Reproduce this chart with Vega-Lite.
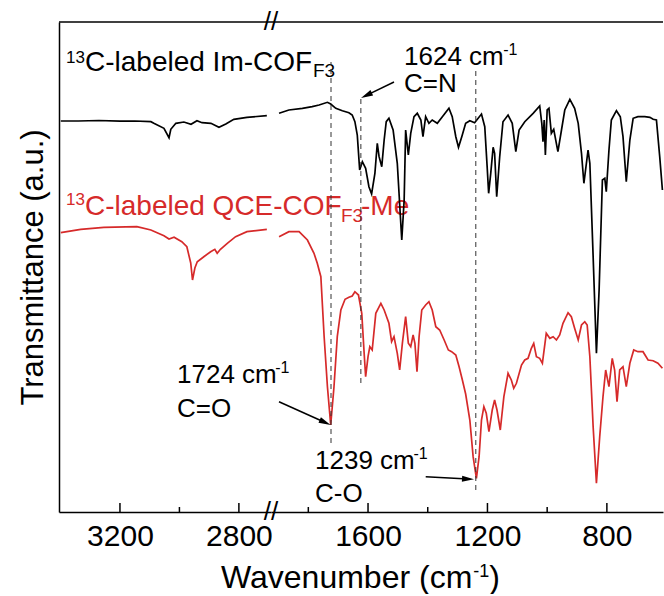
{
  "$schema": "https://vega.github.io/schema/vega-lite/v6.json",
  "background": "white",
  "padding": {"left": 17, "top": 9, "right": 0, "bottom": 0},
  "config": {"view": {"stroke": null}, "font": "Liberation Sans", "axis": {"grid": false}, "axisX": {"labelFontSize": 30, "labelFont": "Liberation Sans", "labelColor": "#000000", "labelPadding": 9, "ticks": false, "domainColor": "#000000", "domainWidth": 1.5, "labelFlush": false, "labelOverlap": false}},
  "datasets": {
    "im": [
      {"wn":3399,"t":391},{"wn":3340,"t":391},{"wn":3271,"t":391.5},{"wn":3200,"t":390.8},{"wn":3150,"t":391},{"wn":3096,"t":390.3},{"wn":3086,"t":388.7},{"wn":3052,"t":383.7},{"wn":3035,"t":374.3},{"wn":3029,"t":382.7},{"wn":3012,"t":388.7},{"wn":2985,"t":390},{"wn":2961,"t":387.7},{"wn":2941,"t":391.3},{"wn":2924,"t":389.3},{"wn":2894,"t":388.7},{"wn":2867,"t":384.7},{"wn":2844,"t":388},{"wn":2817,"t":392.7},{"wn":2773,"t":394.7},{"wn":2706,"t":396.3},
      {"wn":1898,"t":398.7},{"wn":1865,"t":402},{"wn":1820,"t":403.7},{"wn":1787,"t":405.3},{"wn":1764,"t":407},{"wn":1736,"t":409.7},{"wn":1725,"t":408},{"wn":1708,"t":403.7},{"wn":1686,"t":401.3},{"wn":1664,"t":399.3},{"wn":1653,"t":397},{"wn":1644,"t":390.3},{"wn":1636,"t":377},{"wn":1628,"t":342},{"wn":1619,"t":350.3},{"wn":1608,"t":343.7},{"wn":1597,"t":325.3},{"wn":1588,"t":318},{"wn":1577,"t":338.7},{"wn":1569,"t":368.7},{"wn":1563,"t":355.3},{"wn":1554,"t":345.3},{"wn":1546,"t":372},{"wn":1539,"t":390.3},{"wn":1530,"t":393.7},{"wn":1516,"t":382},{"wn":1502,"t":348.7},{"wn":1487,"t":272},{"wn":1479,"t":312},{"wn":1474,"t":382},{"wn":1465,"t":357},{"wn":1457,"t":378.7},{"wn":1446,"t":395.3},{"wn":1435,"t":398.7},{"wn":1423,"t":392},{"wn":1416,"t":375.3},{"wn":1407,"t":395.3},{"wn":1396,"t":388.7},{"wn":1385,"t":392},{"wn":1368,"t":388.7},{"wn":1351,"t":395.3},{"wn":1329,"t":403.7},{"wn":1318,"t":395.3},{"wn":1306,"t":375.3},{"wn":1297,"t":364.7},{"wn":1286,"t":375.3},{"wn":1273,"t":388.7},{"wn":1259,"t":391.3},{"wn":1243,"t":389.3},{"wn":1220,"t":398},{"wn":1209,"t":385.3},{"wn":1201,"t":345.3},{"wn":1196,"t":318.7},{"wn":1189,"t":338.7},{"wn":1181,"t":364.7},{"wn":1176,"t":358.7},{"wn":1169,"t":315.3},{"wn":1159,"t":355.3},{"wn":1148,"t":390.3},{"wn":1131,"t":397},{"wn":1117,"t":388.7},{"wn":1105,"t":360.3},{"wn":1094,"t":382},{"wn":1075,"t":390.3},{"wn":1047,"t":398.7},{"wn":1025,"t":406},{"wn":1018,"t":388.7},{"wn":1014,"t":370.3},{"wn":1010,"t":392},{"wn":1006,"t":357},{"wn":1000,"t":402},{"wn":994,"t":403.7},{"wn":986,"t":378.7},{"wn":978,"t":382.7},{"wn":964,"t":360.3},{"wn":952,"t":382},{"wn":941,"t":402},{"wn":924,"t":412.7},{"wn":908,"t":403.7},{"wn":896,"t":388.7},{"wn":885,"t":358.7},{"wn":877,"t":328.7},{"wn":863,"t":362},{"wn":857,"t":348.7},{"wn":846,"t":255.3},{"wn":835,"t":158.7},{"wn":826,"t":222},{"wn":815,"t":332},{"wn":807,"t":333.7},{"wn":802,"t":320.3},{"wn":793,"t":362},{"wn":785,"t":392},{"wn":768,"t":401.3},{"wn":755,"t":395.3},{"wn":746,"t":375.3},{"wn":735,"t":330.3},{"wn":723,"t":372},{"wn":712,"t":393.7},{"wn":696,"t":395.3},{"wn":673,"t":395.3},{"wn":656,"t":394.7},{"wn":645,"t":392.7},{"wn":634,"t":392},{"wn":623,"t":355.3},{"wn":614,"t":322}
    ],
    "qce": [
      {"wn":3399,"t":279.3},{"wn":3332,"t":282.7},{"wn":3254,"t":284.7},{"wn":3143,"t":285.3},{"wn":3096,"t":282},{"wn":3052,"t":276.3},{"wn":3035,"t":273},{"wn":3018,"t":274.7},{"wn":2992,"t":270.3},{"wn":2975,"t":265.3},{"wn":2962,"t":249},{"wn":2956,"t":232},{"wn":2948,"t":244},{"wn":2940,"t":250.3},{"wn":2918,"t":255.3},{"wn":2895,"t":260.3},{"wn":2881,"t":262.7},{"wn":2873,"t":258.7},{"wn":2862,"t":262.7},{"wn":2839,"t":268.7},{"wn":2811,"t":275.3},{"wn":2773,"t":280.3},{"wn":2706,"t":282.7},
      {"wn":1898,"t":275.3},{"wn":1865,"t":280.3},{"wn":1831,"t":280.3},{"wn":1803,"t":272},{"wn":1781,"t":258.7},{"wn":1770,"t":248.7},{"wn":1758,"t":235.3},{"wn":1747,"t":175.3},{"wn":1736,"t":125.3},{"wn":1725,"t":87},{"wn":1714,"t":125.3},{"wn":1703,"t":175.3},{"wn":1691,"t":202},{"wn":1677,"t":212.7},{"wn":1664,"t":214.7},{"wn":1653,"t":216},{"wn":1644,"t":220.3},{"wn":1632,"t":217},{"wn":1621,"t":198.7},{"wn":1613,"t":158.7},{"wn":1608,"t":135.3},{"wn":1600,"t":155.3},{"wn":1594,"t":165.3},{"wn":1586,"t":162},{"wn":1574,"t":198.7},{"wn":1557,"t":208.7},{"wn":1546,"t":202},{"wn":1530,"t":188.7},{"wn":1521,"t":170.3},{"wn":1513,"t":175.3},{"wn":1502,"t":158.7},{"wn":1494,"t":142},{"wn":1485,"t":168.7},{"wn":1474,"t":195.3},{"wn":1465,"t":168.7},{"wn":1457,"t":165.3},{"wn":1449,"t":177},{"wn":1443,"t":168.7},{"wn":1436,"t":140.3},{"wn":1429,"t":175.3},{"wn":1420,"t":202},{"wn":1407,"t":207},{"wn":1396,"t":210.3},{"wn":1385,"t":202},{"wn":1373,"t":185.3},{"wn":1360,"t":182},{"wn":1345,"t":172},{"wn":1331,"t":162},{"wn":1320,"t":160.3},{"wn":1306,"t":157},{"wn":1295,"t":145.3},{"wn":1284,"t":132},{"wn":1273,"t":118},{"wn":1259,"t":92},{"wn":1248,"t":55.3},{"wn":1237,"t":33.7},{"wn":1228,"t":55.3},{"wn":1220,"t":92},{"wn":1212,"t":105.3},{"wn":1204,"t":98.7},{"wn":1195,"t":80.3},{"wn":1184,"t":102},{"wn":1176,"t":112},{"wn":1168,"t":102},{"wn":1157,"t":82},{"wn":1145,"t":115.3},{"wn":1131,"t":138.7},{"wn":1120,"t":132},{"wn":1112,"t":123.7},{"wn":1103,"t":128.7},{"wn":1086,"t":147},{"wn":1075,"t":152},{"wn":1064,"t":153.7},{"wn":1053,"t":163.7},{"wn":1045,"t":168.7},{"wn":1036,"t":155.3},{"wn":1025,"t":153.7},{"wn":1016,"t":148.7},{"wn":1003,"t":178.7},{"wn":991,"t":173.7},{"wn":980,"t":175.3},{"wn":969,"t":172},{"wn":958,"t":177},{"wn":947,"t":188.7},{"wn":930,"t":199.3},{"wn":919,"t":195.3},{"wn":908,"t":183.7},{"wn":896,"t":172},{"wn":885,"t":187},{"wn":874,"t":190.3},{"wn":866,"t":187},{"wn":857,"t":155.3},{"wn":846,"t":85.3},{"wn":835,"t":28.7},{"wn":824,"t":75.3},{"wn":813,"t":115.3},{"wn":804,"t":142},{"wn":793,"t":125.3},{"wn":782,"t":153.7},{"wn":774,"t":142},{"wn":766,"t":110.3},{"wn":757,"t":142},{"wn":746,"t":145.3},{"wn":735,"t":125.3},{"wn":723,"t":148.7},{"wn":710,"t":162},{"wn":696,"t":160.3},{"wn":679,"t":160.3},{"wn":662,"t":152},{"wn":645,"t":151.3},{"wn":629,"t":148.7},{"wn":614,"t":143.7}
    ]
  },
  "spacing": 0,
  "bounds": "flush",
  "hconcat": [
    {
      "width": 212,
      "height": 490,
      "layer": [
        {
          "data": {"name": "im"},
          "transform": [{"filter": "datum.wn > 2000"}],
          "mark": {"type": "line", "color": "#000000", "strokeWidth": 1.7},
          "encoding": {
            "x": {"field": "wn", "type": "quantitative", "scale": {"domain": [3405, 2692], "nice": false, "zero": false},
                  "axis": {"values": [3200, 2800], "format": "d", "title": null, "labelFontSize": 30}},
            "y": {"field": "t", "type": "quantitative", "scale": {"domain": [0, 490], "nice": false, "zero": false},
                  "axis": {"title": "Transmittance (a.u.)", "titleFontSize": 31, "titleFont": "Liberation Sans", "titleFontWeight": "normal", "titleColor": "#000000", "titlePadding": 10, "ticks": false, "labels": false, "domainColor": "#000000", "domainWidth": 1.5}}
          }
        },
        {
          "data": {"name": "qce"},
          "transform": [{"filter": "datum.wn > 2000"}],
          "mark": {"type": "line", "color": "#d62a2a", "strokeWidth": 1.7},
          "encoding": {"x": {"field": "wn", "type": "quantitative"}, "y": {"field": "t", "type": "quantitative"}}
        },
        {
          "data": {"values": [{}]},
          "mark": {"type": "rule", "color": "#000000", "strokeWidth": 1.5},
          "encoding": {"y": {"datum": 490}}
        },
        {
          "data": {"values": [{"wn": 3200}, {"wn": 2800}]},
          "mark": {"type": "rule", "color": "#000000", "strokeWidth": 1.5},
          "encoding": {"x": {"field": "wn", "type": "quantitative"}, "y": {"datum": 0}, "y2": {"datum": 9}}
        },
        {
          "data": {"values": [{"wn": 3000}]},
          "mark": {"type": "rule", "color": "#000000", "strokeWidth": 1.5},
          "encoding": {"x": {"field": "wn", "type": "quantitative"}, "y": {"datum": 0}, "y2": {"datum": 5}}
        },
        {"data": {"values": [{}]}, "mark": {"type": "text", "text": "13", "fontSize": 17, "align": "left", "baseline": "alphabetic", "color": "#000000"}, "encoding": {"x": {"datum": 3381.5}, "y": {"datum": 449}}},
        {"data": {"values": [{}]}, "mark": {"type": "text", "text": "C-labeled Im-COF", "fontSize": 28, "align": "left", "baseline": "alphabetic", "color": "#000000"}, "encoding": {"x": {"datum": 3317.6}, "y": {"datum": 441}}},
        {"data": {"values": [{}]}, "mark": {"type": "text", "text": "F3", "fontSize": 19, "align": "left", "baseline": "alphabetic", "color": "#000000"}, "encoding": {"x": {"datum": 2550.7}, "y": {"datum": 435}}},
        {"data": {"values": [{}]}, "mark": {"type": "text", "text": "13", "fontSize": 17, "align": "left", "baseline": "alphabetic", "color": "#d62a2a"}, "encoding": {"x": {"datum": 3381.5}, "y": {"datum": 307}}},
        {"data": {"values": [{}]}, "mark": {"type": "text", "text": "C-labeled QCE-COF", "fontSize": 28, "align": "left", "baseline": "alphabetic", "color": "#d62a2a"}, "encoding": {"x": {"datum": 3317.6}, "y": {"datum": 297}}},
        {"data": {"values": [{}]}, "mark": {"type": "text", "text": "F3", "fontSize": 19, "align": "left", "baseline": "alphabetic", "color": "#d62a2a"}, "encoding": {"x": {"datum": 2456.6}, "y": {"datum": 290}}},
        {"data": {"values": [{}]}, "mark": {"type": "text", "text": "-Me", "fontSize": 28, "align": "left", "baseline": "alphabetic", "color": "#d62a2a"}, "encoding": {"x": {"datum": 2389.3}, "y": {"datum": 297}}},
        {"data": {"values": [{}]}, "mark": {"type": "text", "text": "1724 cm", "fontSize": 26, "align": "left", "baseline": "alphabetic", "color": "#000000"}, "encoding": {"x": {"datum": 3008.1}, "y": {"datum": 129}}},
        {"data": {"values": [{}]}, "mark": {"type": "text", "text": "-1", "fontSize": 16, "align": "left", "baseline": "alphabetic", "color": "#000000"}, "encoding": {"x": {"datum": 2678}, "y": {"datum": 139}}},
        {"data": {"values": [{}]}, "mark": {"type": "text", "text": "C=O", "fontSize": 26, "align": "left", "baseline": "alphabetic", "color": "#000000"}, "encoding": {"x": {"datum": 3008.1}, "y": {"datum": 95}}},
        {"data": {"values": [{}]}, "mark": {"type": "text", "text": "//", "fontSize": 26, "align": "center", "baseline": "middle", "color": "#000000"}, "encoding": {"x": {"datum": 2692}, "y": {"datum": 490}}},
        {"data": {"values": [{}]}, "mark": {"type": "text", "text": "//", "fontSize": 26, "align": "center", "baseline": "middle", "color": "#000000"}, "encoding": {"x": {"datum": 2692}, "y": {"datum": 0}}},
        {"data": {"values": [{}]}, "mark": {"type": "text", "text": "Wavenumber (cm", "fontSize": 32, "align": "left", "baseline": "alphabetic", "color": "#000000"}, "encoding": {"x": {"datum": 2860.2}, "y": {"datum": -76}}},
        {"data": {"values": [{}]}, "mark": {"type": "text", "text": "-1", "fontSize": 18, "align": "left", "baseline": "alphabetic", "color": "#000000"}, "encoding": {"x": {"datum": 2012}, "y": {"datum": -65}}},
        {"data": {"values": [{}]}, "mark": {"type": "text", "text": ")", "fontSize": 32, "align": "left", "baseline": "alphabetic", "color": "#000000"}, "encoding": {"x": {"datum": 1958}, "y": {"datum": -76}}}
      ]
    },
    {
      "width": 392,
      "height": 490,
      "layer": [
        {
          "data": {"name": "im"},
          "transform": [{"filter": "datum.wn < 2000"}],
          "mark": {"type": "line", "color": "#000000", "strokeWidth": 1.7},
          "encoding": {
            "x": {"field": "wn", "type": "quantitative", "scale": {"domain": [1925, 612], "nice": false, "zero": false},
                  "axis": {"values": [1600, 1200, 800], "format": "d", "title": null, "labelFontSize": 30}},
            "y": {"field": "t", "type": "quantitative", "scale": {"domain": [0, 490], "nice": false, "zero": false}, "axis": null}
          }
        },
        {
          "data": {"name": "qce"},
          "transform": [{"filter": "datum.wn < 2000"}],
          "mark": {"type": "line", "color": "#d62a2a", "strokeWidth": 1.7},
          "encoding": {"x": {"field": "wn", "type": "quantitative"}, "y": {"field": "t", "type": "quantitative"}}
        },
        {
          "data": {"values": [{}]},
          "mark": {"type": "rule", "color": "#000000", "strokeWidth": 1.5},
          "encoding": {"y": {"datum": 490}}
        },
        {
          "data": {"values": [{"wn": 1600}, {"wn": 1200}, {"wn": 800}]},
          "mark": {"type": "rule", "color": "#000000", "strokeWidth": 1.5},
          "encoding": {"x": {"field": "wn", "type": "quantitative"}, "y": {"datum": 0}, "y2": {"datum": 9}}
        },
        {
          "data": {"values": [{"wn": 1800}, {"wn": 1400}, {"wn": 1000}]},
          "mark": {"type": "rule", "color": "#000000", "strokeWidth": 1.5},
          "encoding": {"x": {"field": "wn", "type": "quantitative"}, "y": {"datum": 0}, "y2": {"datum": 5}}
        },
        {"data": {"values": [{}]}, "mark": {"type": "rule", "color": "#333333", "strokeWidth": 1, "strokeDash": [5, 4]}, "encoding": {"x": {"datum": 1724}, "y": {"datum": 69}, "y2": {"datum": 450}}},
        {"data": {"values": [{}]}, "mark": {"type": "rule", "color": "#333333", "strokeWidth": 1, "strokeDash": [5, 4]}, "encoding": {"x": {"datum": 1624}, "y": {"datum": 129}, "y2": {"datum": 415}}},
        {"data": {"values": [{}]}, "mark": {"type": "rule", "color": "#333333", "strokeWidth": 1, "strokeDash": [5, 4]}, "encoding": {"x": {"datum": 1239}, "y": {"datum": 22}, "y2": {"datum": 442}}},
        {"data": {"values": [{}]}, "mark": {"type": "rule", "color": "#000000", "strokeWidth": 1.5}, "encoding": {"x": {"datum": 1513}, "y": {"datum": 430}, "x2": {"datum": 1605.5}, "y2": {"datum": 416.6}}},
        {"data": {"values": [{}]}, "mark": {"type": "point", "shape": "M0,-1L0.5,1L-0.5,1Z", "size": 144, "filled": true, "opacity": 1, "color": "#000000", "angle": 244}, "encoding": {"x": {"datum": 1605.5}, "y": {"datum": 416.6}}},
        {"data": {"values": [{}]}, "mark": {"type": "rule", "color": "#000000", "strokeWidth": 1.5}, "encoding": {"x": {"datum": 1898.2}, "y": {"datum": 110.3}, "x2": {"datum": 1743.5}, "y2": {"datum": 89.5}}},
        {"data": {"values": [{}]}, "mark": {"type": "point", "shape": "M0,-1L0.5,1L-0.5,1Z", "size": 144, "filled": true, "opacity": 1, "color": "#000000", "angle": 114}, "encoding": {"x": {"datum": 1743.5}, "y": {"datum": 89.5}}},
        {"data": {"values": [{}]}, "mark": {"type": "rule", "color": "#000000", "strokeWidth": 1.5}, "encoding": {"x": {"datum": 1406.8}, "y": {"datum": 35.3}, "x2": {"datum": 1265.1}, "y2": {"datum": 33}}},
        {"data": {"values": [{}]}, "mark": {"type": "point", "shape": "M0,-1L0.5,1L-0.5,1Z", "size": 144, "filled": true, "opacity": 1, "color": "#000000", "angle": 93}, "encoding": {"x": {"datum": 1265.1}, "y": {"datum": 33}}},
        {"data": {"values": [{}]}, "mark": {"type": "text", "text": "1624 cm", "fontSize": 26, "align": "left", "baseline": "alphabetic", "color": "#000000"}, "encoding": {"x": {"datum": 1479.5}, "y": {"datum": 447}}},
        {"data": {"values": [{}]}, "mark": {"type": "text", "text": "-1", "fontSize": 16, "align": "left", "baseline": "alphabetic", "color": "#000000"}, "encoding": {"x": {"datum": 1147}, "y": {"datum": 457}}},
        {"data": {"values": [{}]}, "mark": {"type": "text", "text": "C=N", "fontSize": 26, "align": "left", "baseline": "alphabetic", "color": "#000000"}, "encoding": {"x": {"datum": 1479.5}, "y": {"datum": 420}}},
        {"data": {"values": [{}]}, "mark": {"type": "text", "text": "1239 cm", "fontSize": 26, "align": "left", "baseline": "alphabetic", "color": "#000000"}, "encoding": {"x": {"datum": 1777.6}, "y": {"datum": 43}}},
        {"data": {"values": [{}]}, "mark": {"type": "text", "text": "-1", "fontSize": 16, "align": "left", "baseline": "alphabetic", "color": "#000000"}, "encoding": {"x": {"datum": 1448}, "y": {"datum": 53}}},
        {"data": {"values": [{}]}, "mark": {"type": "text", "text": "C-O", "fontSize": 26, "align": "left", "baseline": "alphabetic", "color": "#000000"}, "encoding": {"x": {"datum": 1777.6}, "y": {"datum": 10}}}
      ]
    }
  ]
}
